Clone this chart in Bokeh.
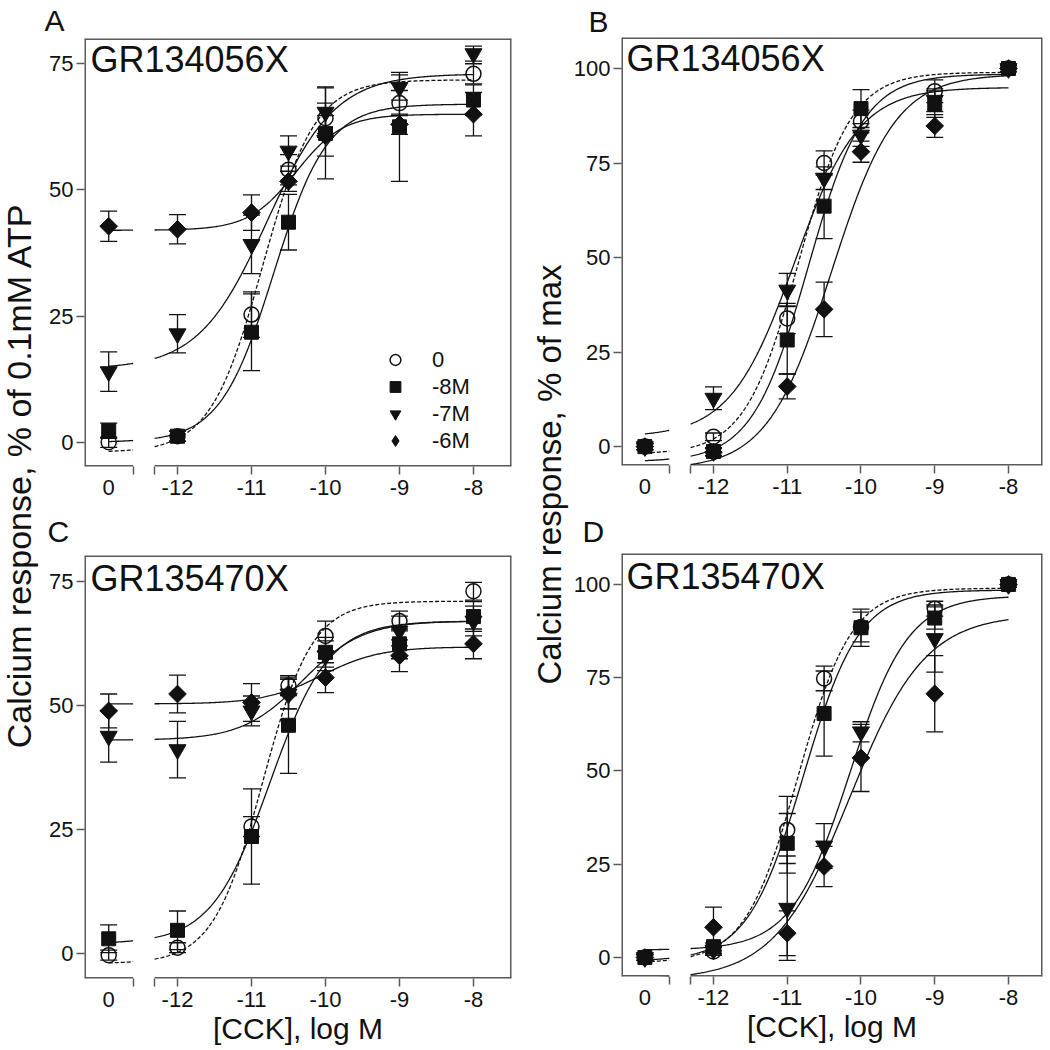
import numpy as np
from bokeh.plotting import figure
from bokeh.layouts import row, column
from bokeh.models import (ColumnDataSource, Whisker, TeeHead, Label, Legend, LegendItem,
                          FixedTicker, Range1d)
from bokeh.embed import file_html
from bokeh.resources import INLINE

FONT = "Liberation Sans"
INK = "#111111"
FRAME = "#5a5a5a"

# ---------------- data ----------------
# first entry is the vehicle ("0" CCK) point, drawn left of the axis break
conc_log = [-12.93, -12, -11, -10.5, -10, -9, -8]
zero_label = "0"
x_tick_vals = [-12, -11, -10, -9, -8]
x_tick_text = ["-12", "-11", "-10", "-9", "-8"]
break_ends = [-12.6, -12.31]
series_names = ["0", "-8M", "-7M", "-6M"]

# Panel A  (GR134056X, % of 0.1mM ATP)
A_0 = [0.0, 1.2, 25.3, 54.0, 64.2, 67.2, 73.0]
A_0_sem = [1.0, 1.0, 4.5, 3.0, 3.0, 2.5, 2.0]
A_8 = [2.3, 1.2, 21.8, 43.6, 61.2, 62.5, 67.8]
A_8_sem = [1.5, 1.0, 7.6, 5.5, 9.0, 10.8, 3.0]
A_7 = [14.0, 21.5, 39.2, 57.7, 65.4, 70.3, 77.0]
A_7_sem = [3.9, 3.8, 5.8, 3.0, 5.0, 2.5, 1.5]
A_6 = [42.8, 42.2, 45.5, 51.7, 60.7, 63.0, 65.0]
A_6_sem = [3.0, 2.9, 3.5, 2.0, 4.0, 2.0, 4.3]
# fitted logistic: bottom, top, logEC50, hill
A_fit_0 = [-2.0, 71.8, -10.85, 1.23]
A_fit_8 = [0.0, 67.0, -10.70, 1.20]
A_fit_7 = [14.5, 73.0, -10.79, 0.94]
A_fit_6 = [42.0, 65.0, -10.40, 1.37]

# Panel B  (GR134056X, % of max)
B_0 = [0.0, 2.6, 33.9, 75.0, 86.0, 94.0, 100.0]
B_0_sem = [0.8, 1.0, 4.0, 3.2, 3.0, 3.0, 0.8]
B_8 = [0.0, -1.3, 28.2, 63.6, 89.4, 90.6, 100.0]
B_8_sem = [0.8, 1.0, 9.0, 8.6, 5.0, 3.5, 0.8]
B_7 = [0.0, 12.8, 41.4, 71.0, 82.4, 91.6, 100.0]
B_7_sem = [0.8, 3.0, 4.4, 3.0, 3.0, 3.0, 0.8]
B_6 = [0.0, -1.5, 15.9, 36.3, 78.0, 84.8, 100.0]
B_6_sem = [0.8, 1.0, 3.3, 7.2, 2.8, 3.0, 0.8]
B_fit_0 = [-2.0, 99.0, -10.85, 1.20]
B_fit_8 = [-4.0, 98.5, -10.72, 1.15]
B_fit_7 = [2.5, 95.0, -10.90, 1.00]
B_fit_6 = [-6.0, 98.5, -10.40, 1.00]

# Panel C  (GR135470X, % of 0.1mM ATP)
C_0 = [-0.3, 1.2, 25.6, 54.0, 64.0, 67.0, 73.0]
C_0_sem = [1.0, 1.0, 2.0, 2.0, 3.0, 2.0, 1.8]
C_8 = [3.0, 4.7, 23.6, 46.0, 60.7, 62.4, 67.9]
C_8_sem = [2.8, 3.9, 9.6, 9.7, 3.0, 3.0, 3.0]
C_7 = [43.8, 41.1, 48.9, 52.3, 60.0, 65.0, 67.0]
C_7_sem = [5.2, 5.7, 3.0, 3.0, 3.0, 3.0, 3.0]
C_6 = [48.9, 52.3, 50.6, 52.3, 55.6, 60.0, 62.4]
C_6_sem = [3.4, 3.8, 3.8, 3.0, 3.0, 3.2, 3.0]
C_fit_0 = [-2.0, 71.0, -10.85, 1.30]
C_fit_8 = [2.0, 67.0, -10.75, 1.10]
C_fit_7 = [43.0, 67.0, -10.31, 1.07]
C_fit_6 = [50.3, 61.8, -10.05, 1.10]

# Panel D  (GR135470X, % of max)
D_0 = [0.0, 1.6, 34.2, 74.8, 88.6, 93.5, 100.0]
D_0_sem = [0.8, 1.0, 9.0, 3.3, 4.0, 2.0, 0.8]
D_8 = [0.0, 2.9, 30.6, 65.4, 88.4, 91.0, 100.0]
D_8_sem = [0.8, 1.0, 8.0, 11.4, 5.0, 3.0, 0.8]
D_7 = [0.0, 2.0, 13.2, 29.9, 60.5, 85.5, 100.0]
D_7_sem = [0.8, 1.0, 14.0, 6.0, 2.7, 9.0, 0.8]
D_6 = [0.0, 8.1, 6.5, 24.4, 53.5, 70.7, 100.0]
D_6_sem = [0.8, 5.4, 6.0, 5.4, 9.0, 10.2, 0.8]
D_fit_0 = [-1.5, 99.0, -10.85, 1.20]
D_fit_8 = [-1.0, 98.5, -10.78, 1.15]
D_fit_7 = [2.0, 97.0, -10.15, 1.10]
D_fit_6 = [-6.0, 92.0, -10.15, 0.85]

ticks_atp = [0, 25, 50, 75]
ticks_max = [0, 25, 50, 75, 100]


def logistic(x, fit):
    b, t, ec, h = fit
    return b + (t - b) / (1.0 + 10.0 ** ((ec - x) * h))


def make_panel(vals, sems, fits, yr, yticks, xr, fw, fh, borders, letter, letter_off,
               letter_standoff, title, title_xy, legend=False, xlabel=False):
    bl, br, bt, bb = borders
    p = figure(frame_width=fw, frame_height=fh, x_range=Range1d(*xr), y_range=Range1d(*yr),
               output_backend="svg", toolbar_location=None,
               min_border_left=bl, min_border_right=br, min_border_top=bt, min_border_bottom=bb)
    p.outline_line_color = None
    p.grid.visible = False
    p.background_fill_color = "white"
    p.border_fill_color = "white"

    # panel letter as the figure title
    p.title.text = letter
    p.title.align = "left"
    p.title.offset = letter_off
    p.title.standoff = letter_standoff
    p.title.text_font = FONT
    p.title.text_font_size = "30px"
    p.title.text_font_style = "normal"
    p.title.text_color = INK

    # x axis: labels from major ticks (no marks), tick marks from minor ticks
    xa = p.xaxis[0]
    major = [conc_log[0]] + x_tick_vals
    xa.ticker = FixedTicker(ticks=major, minor_ticks=break_ends + x_tick_vals)
    ov = {conc_log[0]: zero_label}
    for v, t in zip(x_tick_vals, x_tick_text):
        ov[v] = t
    xa.major_label_overrides = ov
    xa.major_tick_line_color = None
    xa.major_tick_out = 8
    xa.major_tick_in = 0
    xa.minor_tick_line_color = FRAME
    xa.minor_tick_line_width = 1.5
    xa.minor_tick_out = 8
    xa.minor_tick_in = 0
    xa.major_label_standoff = 5

    ya = p.yaxis[0]
    ya.ticker = FixedTicker(ticks=yticks)
    ya.major_tick_line_color = FRAME
    ya.major_tick_line_width = 1.5
    ya.major_tick_out = 8
    ya.major_tick_in = 0
    ya.minor_tick_line_color = None
    ya.major_label_standoff = 3
    for ax in (xa, ya):
        ax.axis_line_color = None
        ax.major_label_text_font = FONT
        ax.major_label_text_font_size = "22px"
        ax.major_label_text_color = INK

    if xlabel:
        xa.axis_label = "[CCK], log M"
        xa.axis_label_text_font = FONT
        xa.axis_label_text_font_size = "30px"
        xa.axis_label_text_font_style = "normal"
        xa.axis_label_text_color = INK
        xa.axis_label_standoff = 2

    # frame with broken bottom edge
    xs, xe = xr
    ys, ye = yr
    p.segment(x0=[xs, xs, xe, xs, break_ends[1]], y0=[ys, ye, ys, ys, ys],
              x1=[xs, xe, xe, break_ends[0], xe], y1=[ye, ye, ye, ys, ys],
              line_color=FRAME, line_width=3)

    # fitted curves (two segments around the axis break)
    xc = np.concatenate([np.linspace(conc_log[0], break_ends[0], 25), [np.nan],
                         np.linspace(break_ends[1], -8, 300)])
    for i, f in enumerate(fits):
        p.line(xc, logistic(xc, f), line_color=INK, line_width=1.3,
               line_dash="4 2" if i == 0 else "solid")

    # error bars
    for v, s in zip(vals, sems):
        src = ColumnDataSource(dict(x=conc_log, lo=[a - b for a, b in zip(v, s)],
                                    hi=[a + b for a, b in zip(v, s)]))
        w = Whisker(source=src, base="x", upper="hi", lower="lo", line_color=INK, line_width=1.3,
                    upper_head=TeeHead(size=17, line_color=INK, line_width=1.3),
                    lower_head=TeeHead(size=17, line_color=INK, line_width=1.3))
        p.add_layout(w)

    # markers (draw -6M, -7M, -8M, then open circles on top)
    r6 = p.scatter(conc_log, vals[3], marker="square", angle=np.pi / 4, size=12.5,
                   fill_color=INK, line_color=INK)
    # same points as an upright diamond (hidden inside the rotated square); used as legend key
    r6_key = p.scatter(conc_log, vals[3], marker="diamond", size=16,
                       fill_color=INK, line_color=INK)
    r7 = p.scatter(conc_log, vals[2], marker="inverted_triangle", size=17,
                   fill_color=INK, line_color=INK)
    r8 = p.scatter(conc_log, vals[1], marker="square", size=14, fill_color=INK, line_color=INK)
    r0 = p.scatter(conc_log, vals[0], marker="circle", size=15, fill_color=None,
                   line_color=INK, line_width=1.5)

    # compound title inside the frame
    p.add_layout(Label(x=title_xy[0], y=title_xy[1], x_units="screen", y_units="screen",
                       text=title, text_font=FONT, text_font_size="36px", text_color=INK))
    if legend:
        items = [LegendItem(label=series_names[0], renderers=[r0]),
                 LegendItem(label=series_names[1], renderers=[r8]),
                 LegendItem(label=series_names[2], renderers=[r7]),
                 LegendItem(label=series_names[3], renderers=[r6_key])]
        lg = Legend(items=items, location=(297, 12), glyph_height=27, glyph_width=28,
                    spacing=0, label_standoff=23, label_text_font=FONT,
                    label_text_font_size="22px", label_text_color=INK, padding=0, margin=0,
                    border_line_color=None, background_fill_alpha=0)
        p.add_layout(lg)
    return p


XR_L = (-13.257, -7.486)
XR_R = (-13.247, -7.539)

pA = make_panel([A_0, A_8, A_7, A_6], [A_0_sem, A_8_sem, A_7_sem, A_6_sem],
                [A_fit_0, A_fit_8, A_fit_7, A_fit_6], (-4.8, 80.0), ticks_atp, XR_L,
                427, 428, (40, 19, 37, 39), "A", -40, 3, "GR134056X", (6, 387), legend=True)
pB = make_panel([B_0, B_8, B_7, B_6], [B_0_sem, B_8_sem, B_7_sem, B_6_sem],
                [B_fit_0, B_fit_8, B_fit_7, B_fit_6], (-5.0, 108.2), ticks_max, XR_R,
                421, 428, (49, 6, 37, 39), "B", -33, 0, "GR134056X", (5, 387))
pC = make_panel([C_0, C_8, C_7, C_6], [C_0_sem, C_8_sem, C_7_sem, C_6_sem],
                [C_fit_0, C_fit_8, C_fit_7, C_fit_6], (-5.0, 80.2), ticks_atp, XR_L,
                427, 423, (40, 19, 49, 70), "C", -37, 15, "GR135470X", (6, 380), xlabel=True)
pD = make_panel([D_0, D_8, D_7, D_6], [D_0_sem, D_8_sem, D_7_sem, D_6_sem],
                [D_fit_0, D_fit_8, D_fit_7, D_fit_6], (-5.1, 108.3), ticks_max, XR_R,
                421, 423, (49, 6, 49, 70), "D", -39, 12, "GR135470X", (5, 380), xlabel=True)


def ylabel_fig(w, h, text, xc, yc, fs):
    f = figure(frame_width=w, frame_height=h, x_range=(0, w), y_range=(0, h),
               x_axis_type=None, y_axis_type=None, output_backend="svg", toolbar_location=None,
               min_border=0)
    f.outline_line_color = None
    f.grid.visible = False
    f.add_layout(Label(x=xc, y=yc, x_units="screen", y_units="screen", text=text, angle=np.pi / 2,
                       text_align="center", text_baseline="middle", text_font=FONT,
                       text_font_size=fs, text_color=INK))
    return f


yl_left = ylabel_fig(44, 1046, "Calcium response, % of 0.1mM ATP", 18, 571, "34px")
yl_right = ylabel_fig(40, 1046, "Calcium response, % of max", 19, 572, "33px")

layout = row(yl_left, column(pA, pC), yl_right, column(pB, pD))
open("out.html", "w").write(file_html(layout, INLINE))
